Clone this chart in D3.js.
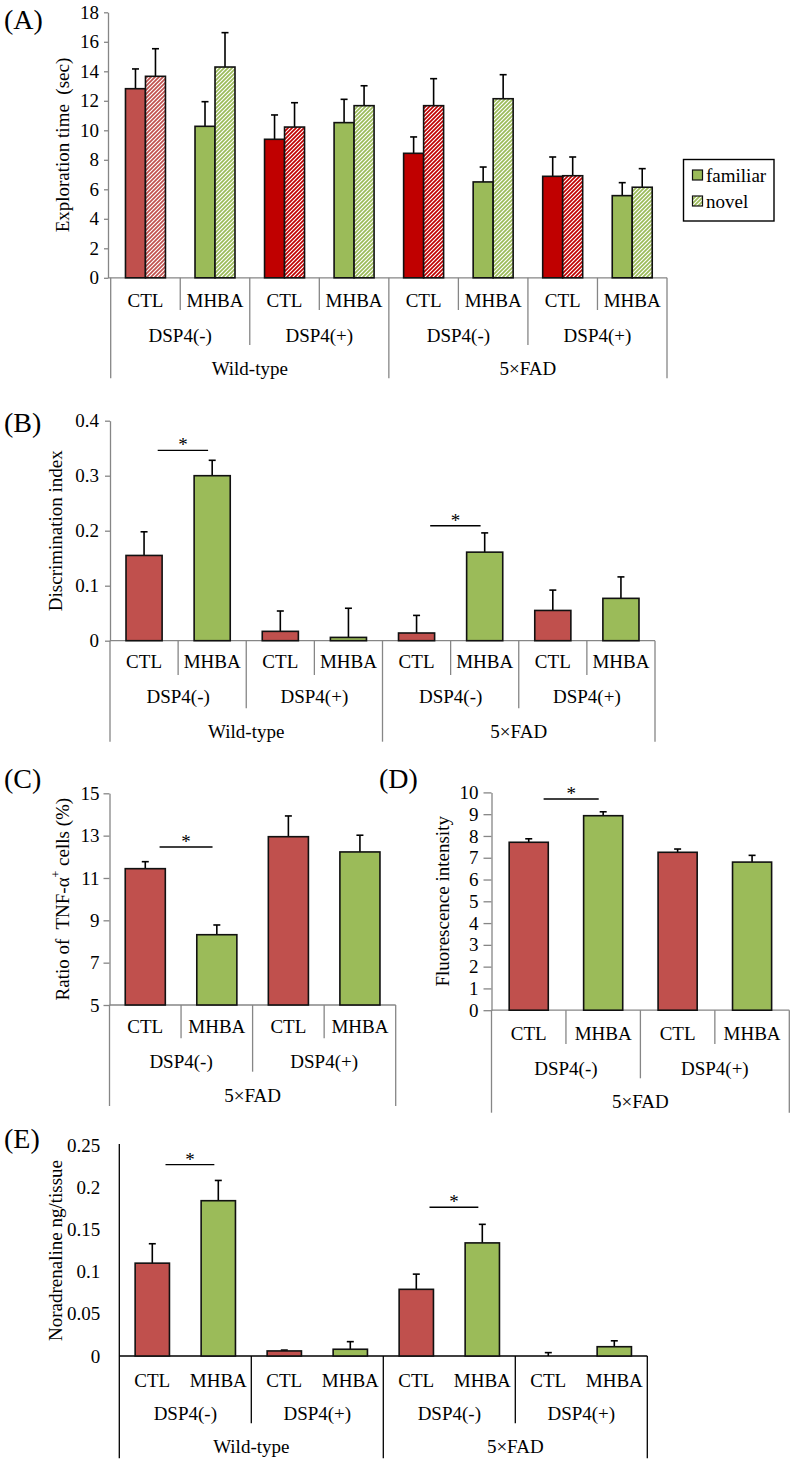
<!DOCTYPE html>
<html><head><meta charset="utf-8">
<script src="https://cdn.jsdelivr.net/npm/d3@7"></script>
<style>
body{margin:0;background:#fff}
svg text{font-family:"Liberation Serif","Times New Roman",Times,serif !important;fill:#000}
</style>
</head><body>
<svg id="c" width="794" height="1464" font-family="Liberation Serif, Times New Roman, serif"></svg>
<script>
// ---------- DATA ----------
const treatments8 = ["CTL","MHBA","CTL","MHBA","CTL","MHBA","CTL","MHBA"];
const dspGroups4 = ["DSP4(-)","DSP4(+)","DSP4(-)","DSP4(+)"];
const genotypes2 = ["Wild-type","5×FAD"];
const treatments4 = ["CTL","MHBA","CTL","MHBA"];
const dspGroups2 = ["DSP4(-)","DSP4(+)"];
const genotype1 = ["5×FAD"];
const seriesNames = ["familiar","novel"];

// (A) Exploration time (sec)
const familiarA    = [12.82, 10.27, 9.39, 10.52, 8.44, 6.50, 6.88, 5.57];
const familiarErrA = [1.34, 1.67, 1.65, 1.58, 1.11, 1.01, 1.31, 0.88];
const novelA       = [13.66, 14.29, 10.22, 11.67, 11.67, 12.14, 6.92, 6.14];
const novelErrA    = [1.87, 2.33, 1.65, 1.35, 1.83, 1.63, 1.27, 1.26];
const ticksA = [0,2,4,6,8,10,12,14,16,18];
const tickLabelsA = ["0","2","4","6","8","10","12","14","16","18"];

// (B) Discrimination index
const discB    = [0.155, 0.300, 0.017, 0.006, 0.014, 0.161, 0.055, 0.077];
const discErrB = [0.043, 0.028, 0.037, 0.053, 0.032, 0.035, 0.037, 0.039];
const ticksB = [0,0.1,0.2,0.3,0.4];
const tickLabelsB = ["0","0.1","0.2","0.3","0.4"];
const sigB = [[0,1,0.346],[4,5,0.209]];

// (C) Ratio of TNF-alpha+ cells (%)
const tnfC    = [11.44, 8.32, 12.95, 12.23];
const tnfErrC = [0.33, 0.46, 0.98, 0.79];
const ticksC = [5,7,9,11,13,15];
const tickLabelsC = ["5","7","9","11","13","15"];
const sigC = [[0,1,12.46]];

// (D) Fluorescence intensity
const fluorD    = [7.71, 8.93, 7.25, 6.80];
const fluorErrD = [0.16, 0.18, 0.15, 0.31];
const ticksD = [0,1,2,3,4,5,6,7,8,9,10];
const tickLabelsD = ["0","1","2","3","4","5","6","7","8","9","10"];
const sigD = [[0,1,9.70]];

// (E) Noradrenaline ng/tissue
const noradE    = [0.110, 0.184, 0.006, 0.008, 0.079, 0.134, 0.000, 0.011];
const noradErrE = [0.023, 0.024, 0.001, 0.009, 0.018, 0.022, 0.004, 0.007];
const ticksE = [0,0.05,0.1,0.15,0.2,0.25];
const tickLabelsE = ["0","0.05","0.1","0.15","0.2","0.25"];
const sigE = [[0,1,0.2267],[4,5,0.1762]];

// ---------- STYLE ----------
const RED = "#C0504D", DRED = "#C00000", GREEN = "#9BBB59", GREY = "#868686";
const FONT = 19;
const FF = "'Liberation Serif','Times New Roman',Times,serif";
const svg = d3.select("#c");
const defs = svg.append("defs");
function hatch(id, color){
  const p = defs.append("pattern").attr("id",id).attr("patternUnits","userSpaceOnUse")
    .attr("width",4).attr("height",4);
  p.append("rect").attr("width",4).attr("height",4).attr("fill","#fff");
  p.append("path").attr("d","M-1,1 l2,-2 M0,4 l4,-4 M3,5 l2,-2")
    .attr("stroke",color).attr("stroke-width",1.7);
}
hatch("hR",RED); hatch("hD",DRED); hatch("hG",GREEN);

const simpleColor = i => (i%2===0 ? RED : GREEN);

function drawPanel(o){
  const g = svg.append("g");
  const n = o.labels1.length;
  const x = d3.scaleBand().domain(d3.range(n)).range([o.x0,o.x1])
    .paddingInner(o.pad).paddingOuter(o.pad/2);
  const step = x.step();
  const y = d3.scaleLinear().domain(o.domain).range([o.yBot,o.yTop]);

  // y axis
  const ax = d3.axisLeft(y).tickValues(o.ticks).tickFormat((d,i)=>o.tickLabels[i])
    .tickSize(o.tickLen).tickSizeOuter(0).tickPadding(o.tickPad);
  const axg = g.append("g").attr("transform",`translate(${o.axisX},0)`).call(ax)
    .attr("font-family",null);
  axg.select(".domain").attr("stroke",o.axisColor).attr("stroke-width",1.3);
  if (o.axisTop!==undefined) axg.select(".domain").attr("d",`M0,${o.yBot}V${o.axisTop}`);
  axg.selectAll(".tick line").attr("stroke",o.axisColor).attr("stroke-width",1.3);
  axg.selectAll(".tick text").attr("font-size",FONT).style("font-family",FF).attr("fill","#000");

  // x axis line
  g.append("line").attr("x1",o.axisX).attr("x2",o.x1).attr("y1",o.yBot).attr("y2",o.yBot)
    .attr("stroke",o.axisColor).attr("stroke-width",1.3);

  // category dividers
  const per2 = n/o.labels2.length, per3 = n/o.labels3.length;
  d3.range(n+1).forEach(k=>{
    let lvl = (k%per3===0)?2:((k%per2===0)?1:0);
    const yb = o.rowBottoms[lvl];
    if (yb===null) return;
    const xx = o.x0 + k*step;
    g.append("line").attr("x1",xx).attr("x2",xx).attr("y1",o.yBot).attr("y2",yb)
      .attr("stroke",o.axisColor).attr("stroke-width",1.3);
  });
  // category labels
  const lab = (arr, per, row) => arr.forEach((t,i)=>{
    g.append("text").attr("x",o.x0 + (i+0.5)*per*step).attr("y",o.rowCenters[row])
      .attr("dy","0.35em").attr("text-anchor","middle").attr("font-size",FONT)
      .style("font-family",FF).text(t);
  });
  lab(o.labels1,1,0); lab(o.labels2,per2,1); lab(o.labels3,per3,2);

  // bars
  const ns = o.series.length;
  const sub = d3.scaleBand().domain(d3.range(ns)).range([0,x.bandwidth()]);
  o.series.forEach((s,si)=>{
    s.values.forEach((v,i)=>{
      const bx = x(i)+sub(si), bw = sub.bandwidth(), cx = bx+bw/2;
      const top = y(v), et = y(v+s.errs[i]);
      g.append("line").attr("x1",cx).attr("x2",cx).attr("y1",top).attr("y2",et)
        .attr("stroke","#000").attr("stroke-width",1.6);
      g.append("line").attr("x1",cx-3.5).attr("x2",cx+3.5).attr("y1",et).attr("y2",et)
        .attr("stroke","#000").attr("stroke-width",1.6);
      if (v>0) g.append("rect").attr("x",bx).attr("y",top).attr("width",bw)
        .attr("height",o.yBot-top).attr("fill",s.fill(i))
        .attr("stroke","#111").attr("stroke-width",1.6);
    });
  });

  // significance
  (o.sig||[]).forEach(([a,b,v])=>{
    const xa = x(a)+x.bandwidth()/2 + 0.2*step, xb = x(b)+x.bandwidth()/2 - 0.06*step;
    g.append("line").attr("x1",xa).attr("x2",xb).attr("y1",y(v)).attr("y2",y(v))
      .attr("stroke","#000").attr("stroke-width",1.4);
    g.append("text").attr("x",(xa+xb)/2).attr("y",y(v)+1).attr("text-anchor","middle")
      .attr("font-size",FONT).style("font-family",FF).text("*");
  });

  // y title
  const t = g.append("text").attr("transform",`translate(${o.titleX},${(o.yTop+o.yBot)/2}) rotate(-90)`)
    .attr("text-anchor","middle").attr("dy","0.35em").attr("font-size",FONT)
    .style("font-family",FF).style("white-space","pre");
  o.title(t);
  // panel letter
  g.append("text").attr("x",o.letterX).attr("y",o.letterY).attr("font-size",28)
    .style("font-family",FF).text(o.letter);
  return {x,y,g};
}

// (A)
drawPanel({
  labels1:treatments8, labels2:dspGroups4, labels3:genotypes2,
  x0:110.7, x1:667, pad:0.425, axisX:108, yTop:12.3, yBot:277.8, domain:[0,18],
  ticks:ticksA, tickLabels:tickLabelsA, tickLen:4, tickPad:5, axisColor:GREY,
  rowCenters:[300,335,368.3], rowBottoms:[310,345,378.3],
  series:[
    {values:familiarA, errs:familiarErrA, fill:i=> i%2 ? GREEN : (i===0?RED:DRED)},
    {values:novelA, errs:novelErrA, fill:i=> i%2 ? "url(#hG)" : (i===0?"url(#hR)":"url(#hD)")}
  ],
  title:t=>t.text("Exploration time  (sec)"), titleX:62,
  letter:"(A)", letterX:4, letterY:29
});
// legend
const lg = svg.append("g");
lg.append("rect").attr("x",683.5).attr("y",159.5).attr("width",90.5).attr("height",61.5)
  .attr("fill","#fff").attr("stroke","#000").attr("stroke-width",1.4);
[[seriesNames[0],GREEN,170],[seriesNames[1],"url(#hG)",196]].forEach(([n,f,yy])=>{
  lg.append("rect").attr("x",692.5).attr("y",yy).attr("width",10).attr("height",10)
    .attr("fill",f).attr("stroke","#111").attr("stroke-width",1.2);
  lg.append("text").attr("x",706).attr("y",yy+11.5).attr("font-size",FONT)
    .style("font-family",FF).text(n);
});

// (B)
drawPanel({
  labels1:treatments8, labels2:dspGroups4, labels3:genotypes2,
  x0:110, x1:655, pad:0.47, axisX:110, yTop:420.7, yBot:640.7, domain:[0,0.4],
  ticks:ticksB, tickLabels:tickLabelsB, tickLen:5, tickPad:6, axisColor:GREY,
  rowCenters:[661,696.7,731], rowBottoms:[675,708.3,741.7],
  series:[{values:discB, errs:discErrB, fill:simpleColor}],
  sig:sigB,
  title:t=>t.text("Discrimination index"), titleX:55,
  letter:"(B)", letterX:4, letterY:432
});

// (C)
drawPanel({
  labels1:treatments4, labels2:dspGroups2, labels3:genotype1,
  x0:109.5, x1:395.7, pad:0.44, axisX:109.5, yTop:793.3, yBot:1005, domain:[5,15],
  ticks:ticksC, tickLabels:tickLabelsC, tickLen:6, tickPad:4, axisColor:GREY,
  rowCenters:[1026.7,1061.7,1095], rowBottoms:[1038.3,1071.7,1106],
  series:[{values:tnfC, errs:tnfErrC, fill:simpleColor}],
  sig:sigC,
  title:t=>{t.append("tspan").text("Ratio of  TNF-α");
            t.append("tspan").attr("font-size",12).attr("dy","-0.7em").text("+");
            t.append("tspan").attr("dy","0.45em").text(" cells (%)");}, titleX:62,
  letter:"(C)", letterX:4, letterY:788
});

// (D)
drawPanel({
  labels1:treatments4, labels2:dspGroups2, labels3:genotype1,
  x0:491.5, x1:789.3, pad:0.475, axisX:491.5, yTop:792.4, yBot:1010.2, domain:[0,10],
  ticks:ticksD, tickLabels:tickLabelsD, tickLen:8, tickPad:5, axisColor:GREY,
  rowCenters:[1033.3,1068.3,1101], rowBottoms:[1044,1078.3,1112.7],
  series:[{values:fluorD, errs:fluorErrD, fill:simpleColor}],
  sig:sigD,
  title:t=>t.text("Fluorescence intensity"), titleX:442,
  letter:"(D)", letterX:379, letterY:788
});

// (E)
drawPanel({
  labels1:treatments8, labels2:dspGroups4, labels3:genotypes2,
  x0:119.3, x1:647.3, pad:0.48, axisX:119.3, yTop:1145, yBot:1356, domain:[0,0.25],
  axisTop:1144,
  ticks:ticksE, tickLabels:tickLabelsE, tickLen:0, tickPad:19, axisColor:"#000",
  rowCenters:[1380,1413.3,1446.7], rowBottoms:[null,1423.3,1458.3],
  series:[{values:noradE, errs:noradErrE, fill:simpleColor}],
  sig:sigE,
  title:t=>t.text("Noradrenaline ng/tissue"), titleX:55,
  letter:"(E)", letterX:4, letterY:1148
});
</script>
</body></html>
